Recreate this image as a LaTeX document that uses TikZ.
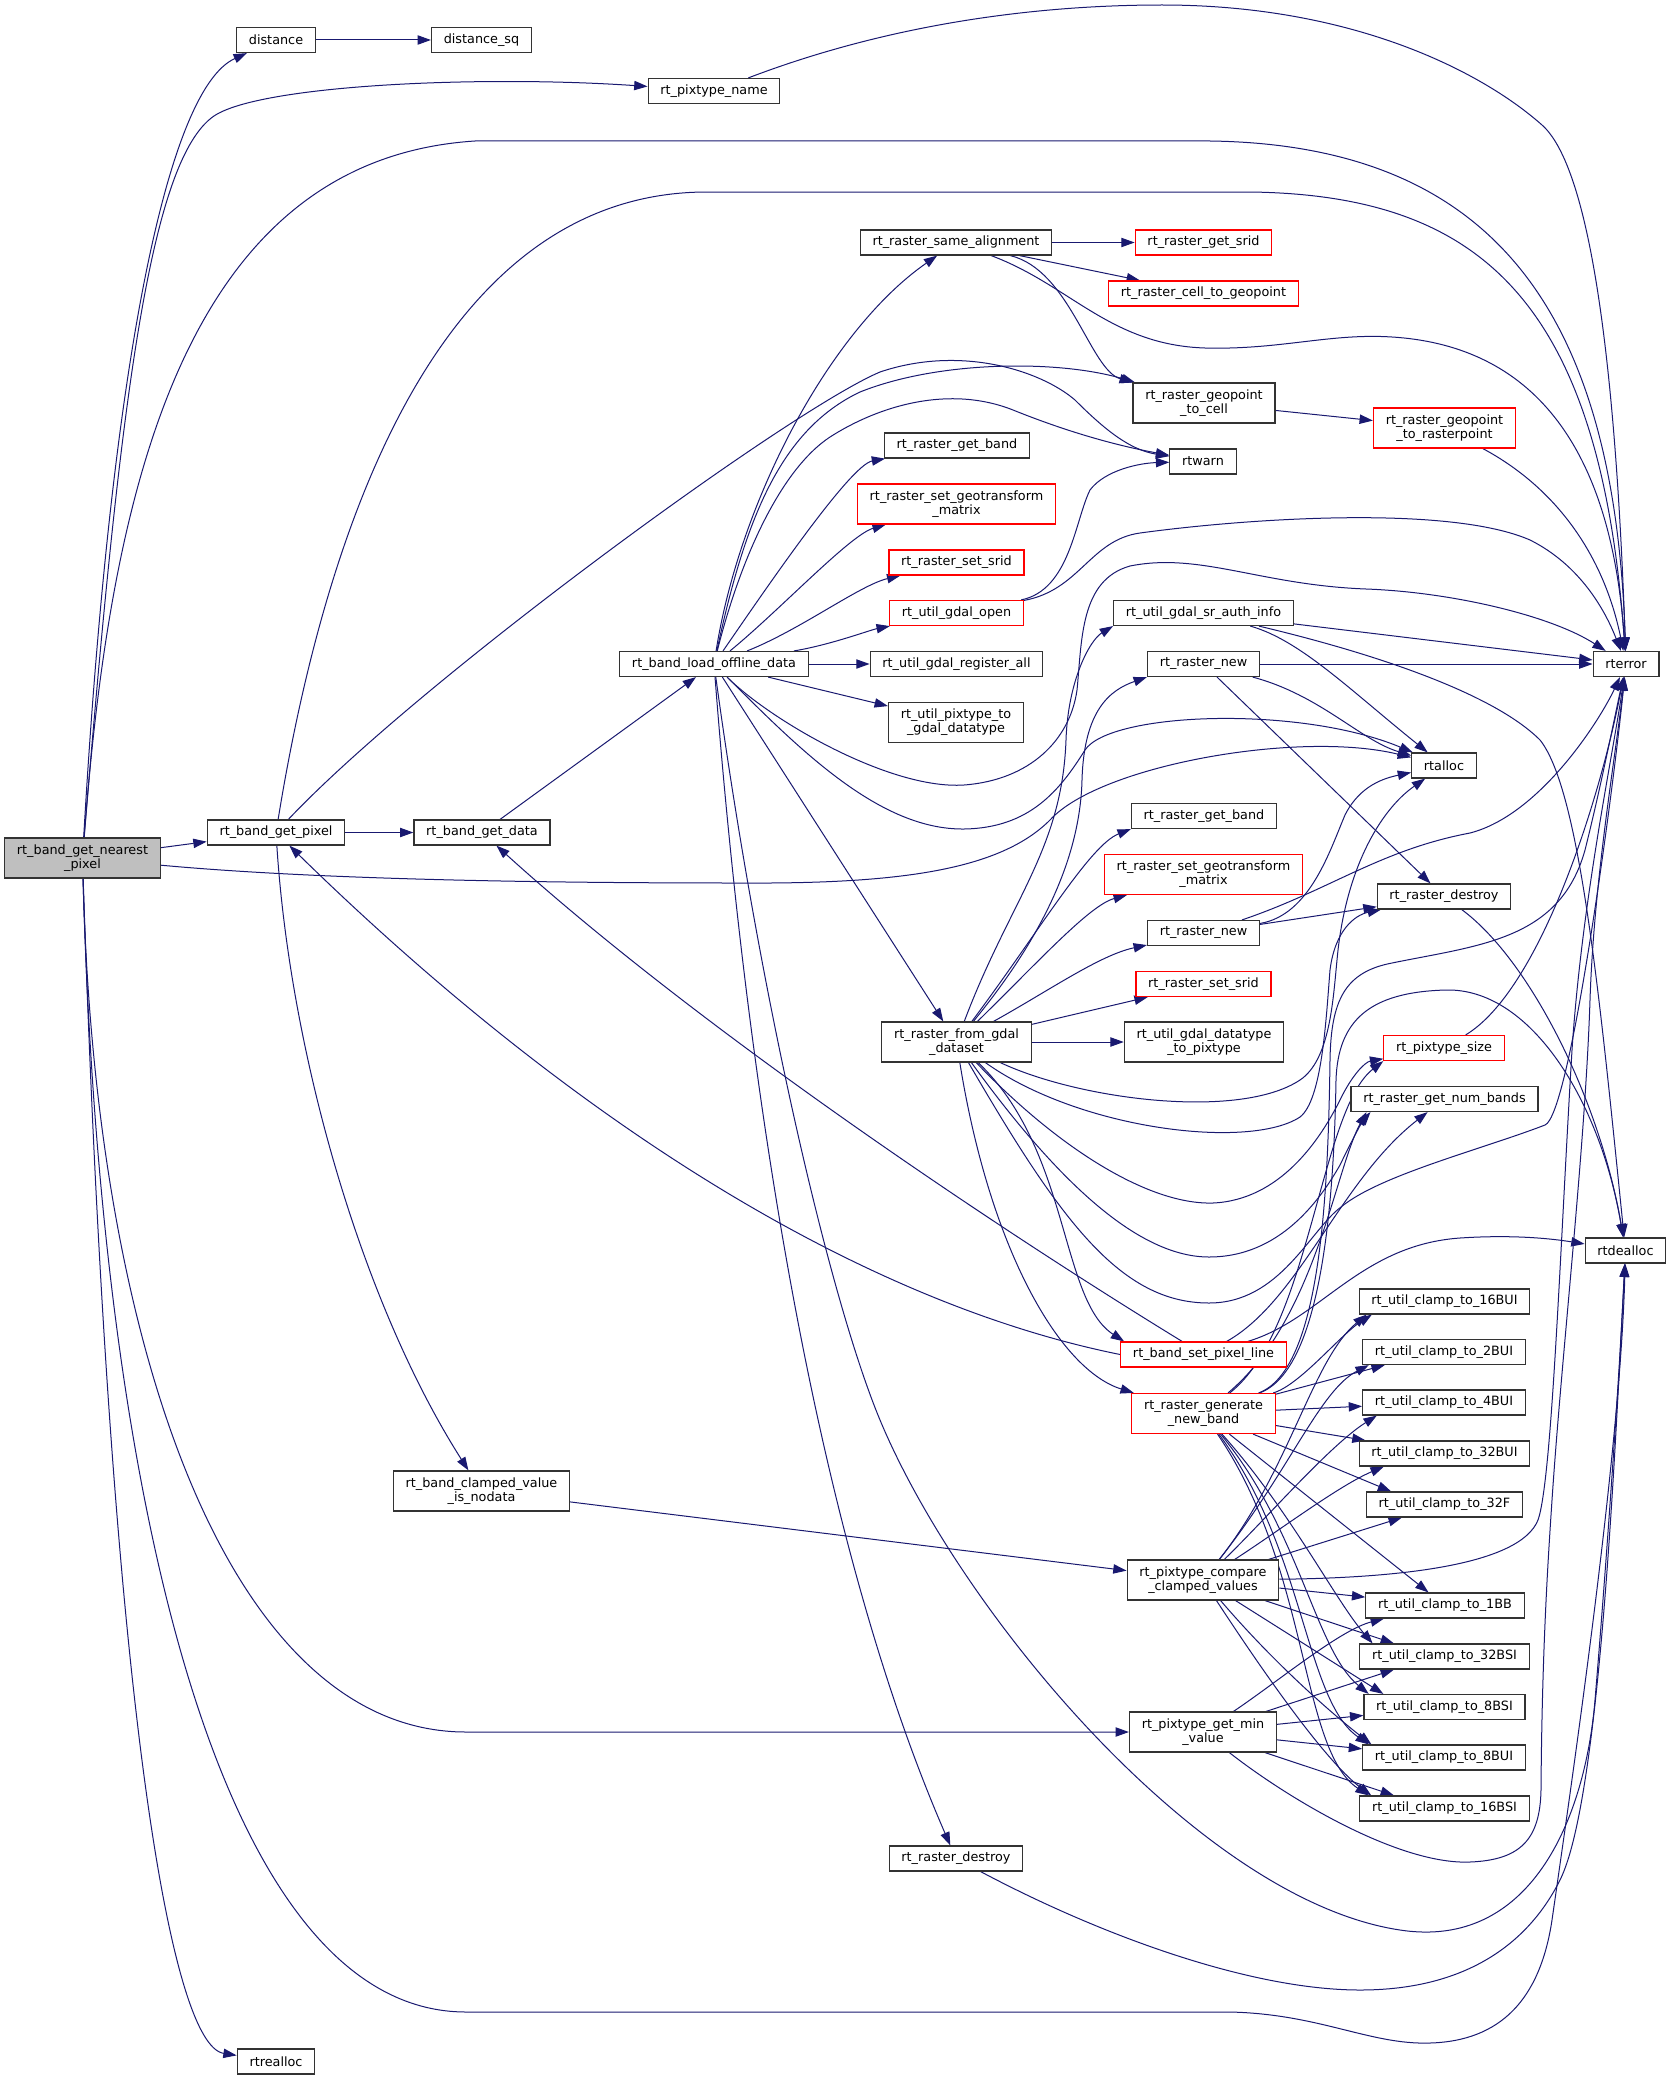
\documentclass[tikz,border=0pt]{standalone}
\usepackage{fontspec}
\setmainfont{DejaVu Sans}
\usetikzlibrary{arrows.meta}
\definecolor{edgeblue}{HTML}{191970}
\pgfdeclarelayer{edges}
\pgfsetlayers{edges,main}

\begin{document}
\begin{tikzpicture}[x=0.75pt, y=-0.75pt,
  fn/.style={draw=black!80, line width=0.9pt, fill=white, align=center,
    font=\fontsize{9.6pt}{10.7pt}\selectfont, inner xsep=9.2pt, inner ysep=2pt,
    minimum height=18.75pt},
  two/.style={minimum height=30pt},
  trunc/.style={draw=red},
  cur/.style={fill=black!25},
  call/.style={draw=edgeblue, line width=0.75pt, -{Triangle[length=10pt,width=7pt]}}]

\path (82.5,858) node (nearest) [fn, two, cur] {rt\_band\_get\_nearest\\\_pixel};
\path (276,40) node (distance) [fn] {distance};
\path (481.5,40) node (distancesq) [fn] {distance\_sq};
\path (714,91) node (pixtypename) [fn] {rt\_pixtype\_name};
\path (276,832.5) node (getpixel) [fn] {rt\_band\_get\_pixel};
\path (482,832.5) node (getdata) [fn] {rt\_band\_get\_data};
\path (714,664) node (loadoffline) [fn] {rt\_band\_load\_offline\_data};
\path (481.5,1491) node (clampednodata) [fn, two] {rt\_band\_clamped\_value\\\_is\_nodata};
\path (276,2061.5) node (rtrealloc) [fn] {rtrealloc};

\path (956,242.5) node (samealign) [fn] {rt\_raster\_same\_alignment};
\path (957,445.5) node (getbandA) [fn] {rt\_raster\_get\_band};
\path (956.5,504) node (setgeoA) [fn, two, trunc] {rt\_raster\_set\_geotransform\\\_matrix};
\path (956.5,562.5) node (setsridA) [fn, trunc] {rt\_raster\_set\_srid};
\path (956.5,613) node (gdalopen) [fn, trunc] {rt\_util\_gdal\_open};
\path (956.5,664) node (registerall) [fn] {rt\_util\_gdal\_register\_all};
\path (956,722.5) node (pixtogdal) [fn, two] {rt\_util\_pixtype\_to\\\_gdal\_datatype};
\path (956.5,1042) node (fromgdal) [fn, two] {rt\_raster\_from\_gdal\\\_dataset};
\path (956,1858.5) node (destroyB) [fn] {rt\_raster\_destroy};

\path (1203.5,242.5) node (getsrid) [fn, trunc] {rt\_raster\_get\_srid};
\path (1203.5,293.5) node (celltogeo) [fn, trunc] {rt\_raster\_cell\_to\_geopoint};
\path (1204,403) node (geotocell) [fn, two] {rt\_raster\_geopoint\\\_to\_cell};
\path (1203,461.5) node (rtwarn) [fn] {rtwarn};
\path (1203.5,613) node (srauth) [fn] {rt\_util\_gdal\_sr\_auth\_info};
\path (1203.5,664) node (rasternewA) [fn] {rt\_raster\_new};
\path (1204,816) node (getbandB) [fn] {rt\_raster\_get\_band};
\path (1203.5,874.5) node (setgeoB) [fn, two, trunc] {rt\_raster\_set\_geotransform\\\_matrix};
\path (1203.5,933) node (rasternewB) [fn] {rt\_raster\_new};
\path (1203.5,984) node (setsridB) [fn, trunc] {rt\_raster\_set\_srid};
\path (1204,1042) node (gdaltopix) [fn, two] {rt\_util\_gdal\_datatype\\\_to\_pixtype};
\path (1203.5,1354.5) node (setpixline) [fn, trunc] {rt\_band\_set\_pixel\_line};
\path (1203.5,1413.5) node (gennewband) [fn, two, trunc] {rt\_raster\_generate\\\_new\_band};
\path (1203,1580) node (compareclamped) [fn, two] {rt\_pixtype\_compare\\\_clamped\_values};
\path (1203,1732) node (minvalue) [fn, two] {rt\_pixtype\_get\_min\\\_value};

\path (1444.5,428) node (geotoraster) [fn, two, trunc] {rt\_raster\_geopoint\\\_to\_rasterpoint};
\path (1444,765.5) node (rtalloc) [fn] {rtalloc};
\path (1444,896.5) node (destroyA) [fn] {rt\_raster\_destroy};
\path (1444,1048) node (pixsize) [fn, trunc] {rt\_pixtype\_size};
\path (1444.5,1099) node (numbands) [fn] {rt\_raster\_get\_num\_bands};
\path (1444.5,1301.5) node (cs16BUI) [fn] {rt\_util\_clamp\_to\_16BUI};
\path (1444,1352) node (cs2BUI) [fn] {rt\_util\_clamp\_to\_2BUI};
\path (1444,1402.5) node (cs4BUI) [fn] {rt\_util\_clamp\_to\_4BUI};
\path (1444.5,1453.5) node (cs32BUI) [fn] {rt\_util\_clamp\_to\_32BUI};
\path (1444.5,1504.5) node (cs32F) [fn] {rt\_util\_clamp\_to\_32F};
\path (1445,1605.5) node (cs1BB) [fn] {rt\_util\_clamp\_to\_1BB};
\path (1444.5,1656.5) node (cs32BSI) [fn] {rt\_util\_clamp\_to\_32BSI};
\path (1444.5,1707) node (cs8BSI) [fn] {rt\_util\_clamp\_to\_8BSI};
\path (1444,1757.5) node (cs8BUI) [fn] {rt\_util\_clamp\_to\_8BUI};
\path (1444.5,1808.5) node (cs16BSI) [fn] {rt\_util\_clamp\_to\_16BSI};

\path (1626,664) node (rterror) [fn] {rterror};
\path (1625.5,1250.5) node (rtdealloc) [fn] {rtdealloc};

\begin{pgfonlayer}{edges}
\fill[white] (0,0) rectangle (1669,2080);
\useasboundingbox (0,0) rectangle (1669,2080);

\draw[call] (nearest) .. controls (110,380) and (165,90) .. (distance);
\draw[call] (nearest) .. controls (120,400) and (150,160) .. (214,116) .. controls (260,85) and (480,75) .. (pixtypename);
\draw[call] (nearest) .. controls (110,500) and (180,160) .. (475,141) -- (1210,141) .. controls (1500,145) and (1615,320) .. (rterror);
\draw[call] (nearest) -- (getpixel);
\draw[call] (nearest) .. controls (300,878) and (500,883) .. (740,883) .. controls (900,884) and (1000,870) .. (1050,820) .. controls (1100,765) and (1300,730) .. (rtalloc);
\draw[call] (nearest) .. controls (95,1350) and (230,1732) .. (466,1732) -- (minvalue);
\draw[call] (nearest) .. controls (100,1500) and (220,2012) .. (466,2012) -- (1230,2012) .. controls (1320,2014) and (1370,2045) .. (1430,2043) .. controls (1500,2041) and (1540,2000) .. (1552,1920) .. controls (1575,1760) and (1620,1450) .. (rtdealloc);
\draw[call] (nearest) .. controls (110,1700) and (170,2045) .. (rtrealloc);
\draw[call] (distance) -- (distancesq);
\draw[call] (pixtypename) .. controls (900,20) and (1050,5) .. (1162,5) .. controls (1350,5) and (1480,70) .. (1542,125) .. controls (1595,172) and (1617,400) .. (rterror);

\draw[call] (getpixel) -- (getdata);
\draw[call] (getpixel) .. controls (330,500) and (450,192) .. (707,192) -- (1250,192) .. controls (1480,195) and (1600,300) .. (rterror);
\draw[call] (getpixel) .. controls (420,680) and (790,410) .. (880,372) .. controls (960,345) and (1040,370) .. (1075,400) .. controls (1105,430) and (1130,450) .. (rtwarn);
\draw[call] (getpixel) .. controls (290,1050) and (360,1300) .. (clampednodata);
\draw[call] (getdata) -- (loadoffline);
\draw[call] (clampednodata) -- (compareclamped);

\draw[call] (loadoffline) .. controls (740,500) and (830,330) .. (samealign);
\draw[call] (loadoffline) .. controls (745,520) and (780,430) .. (860,392) .. controls (940,360) and (1060,360) .. (geotocell);
\draw[call] (loadoffline) .. controls (740,560) and (780,470) .. (830,437) .. controls (880,405) and (950,385) .. (1013,410) .. controls (1080,437) and (1130,448) .. (rtwarn);
\draw[call] (loadoffline) .. controls (765,590) and (850,465) .. (getbandA);
\draw[call] (loadoffline) .. controls (780,610) and (850,535) .. (setgeoA);
\draw[call] (loadoffline) .. controls (800,630) and (860,585) .. (setsridA);
\draw[call] (loadoffline) .. controls (830,645) and (870,630) .. (gdalopen);
\draw[call] (loadoffline) -- (registerall);
\draw[call] (loadoffline) -- (pixtogdal);
\draw[call] (loadoffline) .. controls (800,750) and (880,830) .. (964,829) .. controls (1030,828) and (1060,790) .. (1085,750) .. controls (1110,712) and (1300,705) .. (rtalloc);
\draw[call] (loadoffline) .. controls (770,720) and (890,790) .. (964,785) .. controls (1030,780) and (1070,740) .. (1077,690) .. controls (1082,640) and (1080,580) .. (1130,566) .. controls (1200,552) and (1260,585) .. (1366,589) .. controls (1450,592) and (1550,615) .. (rterror);
\draw[call] (loadoffline) -- (fromgdal);
\draw[call] (loadoffline) .. controls (740,1000) and (800,1500) .. (destroyB);
\draw[call] (loadoffline) .. controls (760,1000) and (830,1300) .. (880,1420) .. controls (960,1612) and (1200,1900) .. (1400,1930) .. controls (1530,1950) and (1585,1820) .. (1595,1700) .. controls (1605,1580) and (1618,1400) .. (rtdealloc);

\draw[call] (samealign) -- (getsrid);
\draw[call] (samealign) -- (celltogeo);
\draw[call] (samealign) .. controls (1070,270) and (1090,370) .. (geotocell);
\draw[call] (samealign) .. controls (1070,285) and (1110,345) .. (1205,348) .. controls (1280,350) and (1330,333) .. (1392,337) .. controls (1520,345) and (1610,430) .. (rterror);
\draw[call] (geotocell) -- (geotoraster);
\draw[call] (geotoraster) .. controls (1560,490) and (1605,560) .. (rterror);
\draw[call] (gdalopen) .. controls (1070,590) and (1075,520) .. (1090,490) .. controls (1105,470) and (1140,463) .. (rtwarn);
\draw[call] (gdalopen) .. controls (1080,590) and (1090,540) .. (1140,533) .. controls (1250,518) and (1450,505) .. (1530,540) .. controls (1580,565) and (1605,610) .. (rterror);

\draw[call] (srauth) -- (rterror);
\draw[call] (srauth) .. controls (1300,640) and (1350,690) .. (rtalloc);
\draw[call] (srauth) .. controls (1360,650) and (1490,690) .. (1540,740) .. controls (1580,790) and (1600,1000) .. (rtdealloc);
\draw[call] (rasternewA) -- (rterror);
\draw[call] (rasternewA) .. controls (1320,695) and (1360,740) .. (rtalloc);
\draw[call] (rasternewA) -- (destroyA);
\draw[call] (rasternewB) .. controls (1310,915) and (1330,850) .. (1345,815) .. controls (1360,785) and (1385,778) .. (rtalloc);
\draw[call] (rasternewB) -- (destroyA);
\draw[call] (rasternewB) .. controls (1330,890) and (1380,850) .. (1470,833) .. controls (1540,815) and (1600,720) .. (rterror);
\draw[call] (destroyA) .. controls (1530,960) and (1600,1100) .. (rtdealloc);
\draw[call] (pixsize) .. controls (1540,990) and (1600,800) .. (rterror);

\draw[call] (fromgdal) .. controls (1010,900) and (1062,850) .. (1066,740) .. controls (1068,680) and (1090,640) .. (srauth.south west);
\draw[call] (fromgdal) .. controls (1040,940) and (1080,860) .. (1082,780) .. controls (1084,710) and (1110,690) .. (rasternewA.south west);
\draw[call] (fromgdal) .. controls (1040,930) and (1090,845) .. (getbandB.south west);
\draw[call] (fromgdal) .. controls (1040,960) and (1090,905) .. (setgeoB);
\draw[call] (fromgdal) .. controls (1050,990) and (1100,955) .. (rasternewB);
\draw[call] (fromgdal) -- (setsridB);
\draw[call] (fromgdal) -- (gdaltopix);
\draw[call] (fromgdal) .. controls (1080,1100) and (1240,1120) .. (1300,1080) .. controls (1330,1060) and (1333,1000) .. (1337,960) .. controls (1345,870) and (1380,810) .. (rtalloc);
\draw[call] (fromgdal) .. controls (1080,1130) and (1250,1150) .. (1300,1117) .. controls (1322,1100) and (1326,1020) .. (1330,970) .. controls (1335,930) and (1355,915) .. (destroyA);
\draw[call] (fromgdal) .. controls (1060,1150) and (1150,1205) .. (1213,1203) .. controls (1280,1200) and (1320,1140) .. (1340,1100) .. controls (1352,1075) and (1365,1062) .. (pixsize);
\draw[call] (fromgdal) .. controls (1060,1185) and (1140,1257) .. (1209,1257) .. controls (1280,1257) and (1320,1200) .. (1340,1165) .. controls (1352,1140) and (1362,1122) .. ([xshift=15pt]numbands.south west);
\draw[call] (fromgdal) .. controls (1060,1220) and (1120,1303) .. (1209,1303) .. controls (1280,1303) and (1310,1230) .. (1341,1207) .. controls (1380,1175) and (1480,1150) .. (1545,1125) .. controls (1570,1115) and (1612,800) .. (rterror);
\draw[call] (fromgdal) .. controls (1070,1150) and (1060,1300) .. ([xshift=3pt]setpixline.north west);
\draw[call] (fromgdal) .. controls (990,1250) and (1060,1370) .. ([xshift=2pt]gennewband.north west);

\draw[call] (setpixline.west) .. controls (850,1300) and (560,1110) .. (getpixel);
\draw[call] (setpixline) .. controls (1000,1230) and (700,1030) .. (getdata);
\draw[call] (setpixline) .. controls (1300,1300) and (1340,1180) .. (numbands);
\draw[call] (setpixline) .. controls (1320,1320) and (1360,1245) .. (1460,1238) .. controls (1520,1234) and (1560,1240) .. (rtdealloc);

\draw[call] (gennewband) .. controls (1300,1385) and (1340,1335) .. ([xshift=10pt]cs16BUI.south west);
\draw[call] (gennewband) -- ([xshift=17pt]cs2BUI.south west);
\draw[call] (gennewband) -- (cs4BUI);
\draw[call] (gennewband) -- (cs32BUI);
\draw[call] (gennewband) -- ([xshift=19pt]cs32F.north west);
\draw[call] (gennewband) -- (cs1BB);
\draw[call] (gennewband) .. controls (1290,1510) and (1335,1600) .. ([xshift=10pt]cs32BSI.north west);
\draw[call] (gennewband) .. controls (1300,1530) and (1315,1650) .. ([xshift=4pt]cs8BSI.north west);
\draw[call] (gennewband) .. controls (1305,1550) and (1305,1700) .. ([xshift=5pt]cs8BUI.north west);
\draw[call] (gennewband) .. controls (1310,1570) and (1300,1750) .. ([xshift=7pt]cs16BSI.north west);
\draw[call] (gennewband) .. controls (1310,1330) and (1320,1110) .. (pixsize.south west);
\draw[call] (gennewband) .. controls (1315,1320) and (1335,1170) .. ([xshift=12pt]numbands.south west);
\draw[call] (gennewband) .. controls (1320,1370) and (1328,1200) .. (1330,1060) .. controls (1331,1000) and (1345,972) .. (1392,963) .. controls (1480,945) and (1560,940) .. (1585,850) .. controls (1600,790) and (1612,730) .. (rterror);
\draw[call] (gennewband) .. controls (1322,1370) and (1334,1200) .. (1336,1080) .. controls (1338,1020) and (1370,992) .. (1446,990) .. controls (1530,988) and (1600,1100) .. (rtdealloc);

\draw[call] (compareclamped) .. controls (1290,1470) and (1312,1360) .. ([xshift=6pt]cs16BUI.south west);
\draw[call] (compareclamped) .. controls (1290,1470) and (1320,1390) .. ([xshift=5pt]cs2BUI.south west);
\draw[call] (compareclamped) .. controls (1265,1520) and (1330,1445) .. ([xshift=11pt]cs4BUI.south west);
\draw[call] (compareclamped) .. controls (1280,1530) and (1340,1485) .. ([xshift=19pt]cs32BUI.south west);
\draw[call] (compareclamped) -- ([xshift=27pt]cs32F.south west);
\draw[call] (compareclamped) -- (cs1BB);
\draw[call] (compareclamped) -- ([xshift=26pt]cs32BSI.north west);
\draw[call] (compareclamped) -- ([xshift=15pt]cs8BSI.north west);
\draw[call] (compareclamped) .. controls (1280,1670) and (1340,1720) .. ([xshift=7pt]cs8BUI.north west);
\draw[call] (compareclamped) .. controls (1275,1690) and (1330,1765) .. ([xshift=9pt]cs16BSI.north west);
\draw[call] (compareclamped) .. controls (1400,1578) and (1520,1565) .. (1538,1520) .. controls (1552,1480) and (1560,1250) .. (1572,1050) .. controls (1582,900) and (1612,760) .. (rterror);

\draw[call] (minvalue) .. controls (1280,1680) and (1340,1630) .. ([xshift=14pt]cs1BB.south west);
\draw[call] (minvalue) -- ([xshift=26pt]cs32BSI.south west);
\draw[call] (minvalue) -- (cs8BSI);
\draw[call] (minvalue) -- (cs8BUI);
\draw[call] (minvalue) -- ([xshift=26pt]cs16BSI.north west);
\draw[call] (minvalue) .. controls (1290,1800) and (1400,1865) .. (1470,1862) .. controls (1520,1860) and (1540,1840) .. (1541,1790) .. controls (1542,1650) and (1548,1560) .. (1552,1500) .. controls (1562,1350) and (1585,1150) .. (1590,1000) .. controls (1594,880) and (1615,760) .. (rterror);

\draw[call] (destroyB) .. controls (1100,1935) and (1250,1990) .. (1360,1990) .. controls (1470,1990) and (1530,1940) .. (1560,1880) .. controls (1600,1800) and (1615,1450) .. (rtdealloc);
\end{pgfonlayer}
\end{tikzpicture}
\end{document}
